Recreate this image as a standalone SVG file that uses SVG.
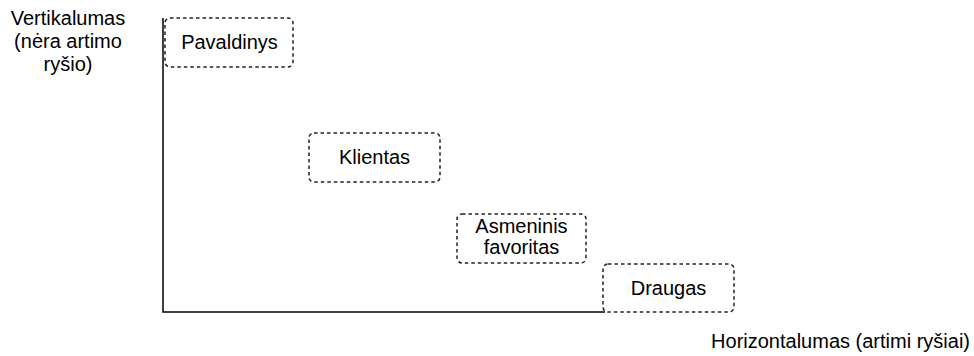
<svg xmlns="http://www.w3.org/2000/svg" width="974" height="356" viewBox="0 0 974 356">
<style>
.box{fill:#fff;stroke:#222;stroke-width:1.5;stroke-dasharray:3.5 3}
.t{font-family:"Liberation Sans",Arial,sans-serif;font-size:20px;fill:#000;text-anchor:middle}
.ax{fill:none;stroke:#000;stroke-width:1.5}
</style>
<rect width="974" height="356" fill="#fff"/>
<g id="axes">
<path class="ax" d="M163 18 V312 H605"/>
</g>
<g id="label-vertical">
<text class="t" x="68" y="25">Vertikalumas</text>
<text class="t" x="68" y="48">(nėra artimo</text>
<text class="t" x="68" y="71">ryšio)</text>
</g>
<g id="label-horizontal">
<text class="t" x="970" y="348" style="text-anchor:end">Horizontalumas (artimi ryšiai)</text>
</g>
<g id="pavaldinys">
<rect class="box" x="165" y="18" width="128" height="49" rx="5"/>
<text class="t" x="229.5" y="49">Pavaldinys</text>
</g>
<g id="klientas">
<rect class="box" x="309" y="133" width="131" height="49" rx="5"/>
<text class="t" x="374.5" y="164">Klientas</text>
</g>
<g id="asmeninis">
<rect class="box" x="457" y="214" width="129" height="49" rx="5"/>
<text class="t" x="521.5" y="233">Asmeninis</text>
<text class="t" x="521.5" y="254">favoritas</text>
</g>
<g id="draugas">
<rect class="box" x="603" y="264" width="131" height="48" rx="5"/>
<text class="t" x="668.5" y="295">Draugas</text>
</g>
</svg>
